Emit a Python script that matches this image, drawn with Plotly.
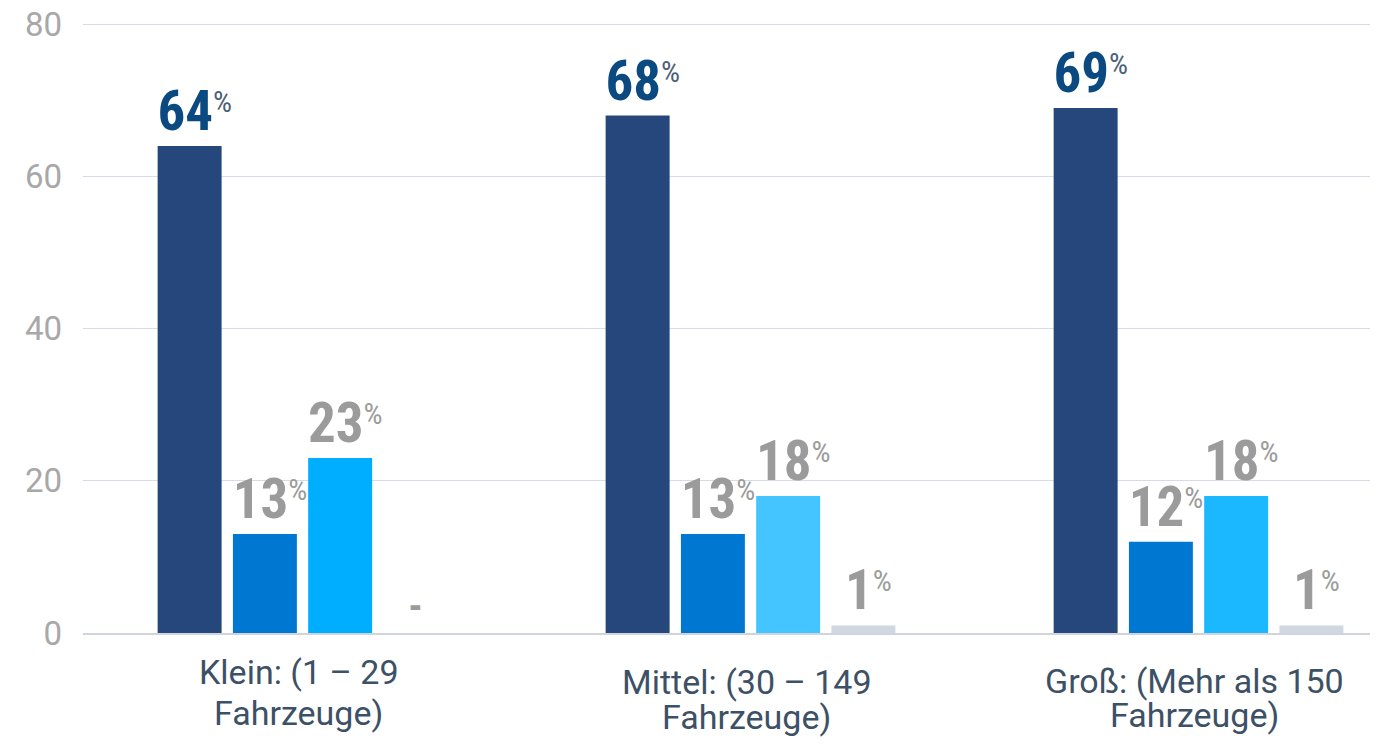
import plotly.graph_objects as go

categories = ["Klein: (1 – 29<br>Fahrzeuge)", "Mittel: (30 – 149<br>Fahrzeuge)", "Groß: (Mehr als 150<br>Fahrzeuge)"]
series1 = [64, 68, 69]
series2 = [13, 13, 12]
series3 = [23, 18, 18]
series4 = [0, 1, 1]
y_ticks = [0, 20, 40, 60, 80]

bar_colors = [
    ["#26477B"] * 3,
    ["#0077D1"] * 3,
    ["#00AEFF", "#45C5FF", "#1BB8FF"],
    ["#D0D7E0"] * 3,
]
label_colors = ["#0A4A80", "#9B9B9B", "#9B9B9B", "#9B9B9B"]
pct_colors = ["#4A6078", "#9B9B9B", "#9B9B9B", "#9B9B9B"]

LABEL_FONT = "Roboto Condensed, Roboto, sans-serif"

# vertical offsets (px below the axis) for each line of the category labels
line_shifts = [(-17, -58), (-27, -62), (-26, -60)]


def make_text(vals, pct_color):
    out = []
    for v in vals:
        if v == 0:
            out.append("<span style='font-size:40px'>-</span>")
        else:
            # small invisible leading spacer nudges the number towards the bar centre
            out.append(
                "<span style='color:rgba(0,0,0,0);font-size:16px;font-weight:normal'>%</span>"
                f"<span style='font-size:55px'>{v}</span>"
                f"<sup><span style='color:{pct_color};font-weight:normal'>%</span></sup>"
            )
    return out


fig = go.Figure()
for i, vals in enumerate([series1, series2, series3, series4]):
    fig.add_trace(go.Bar(
        x=list(range(len(categories))),
        y=vals,
        marker=dict(color=bar_colors[i], line=dict(width=0)),
        text=make_text(vals, pct_colors[i]),
        textposition="outside",
        constraintext="none",
        textfont=dict(family=LABEL_FONT, size=43, color=label_colors[i], weight="bold"),
        cliponaxis=False,
        hoverinfo="skip",
        showlegend=False,
    ))

for i, cat in enumerate(categories):
    for j, line in enumerate(cat.split("<br>")):
        fig.add_annotation(
            x=i, y=0, xref="x", yref="y",
            text=line, showarrow=False,
            xanchor="center", yanchor="top",
            xshift=-4, yshift=line_shifts[i][j],
            font=dict(family="Roboto, sans-serif", size=34, color="#3D5166"),
        )

# page has an 8px body margin, so offsets are compensated here
fig.update_layout(
    width=1378,
    height=744,
    barmode="group",
    bargap=0.328,
    bargroupgap=0.15,
    plot_bgcolor="white",
    paper_bgcolor="white",
    margin=dict(l=75, r=8, t=14, b=119, autoexpand=False),
    font=dict(family="Roboto, sans-serif"),
)
fig.update_xaxes(
    tickmode="array",
    tickvals=list(range(len(categories))),
    ticktext=[""] * len(categories),
    range=[-0.49, 2.4006],
    showgrid=False,
    showline=True,
    linecolor="#D0D4DC",
    linewidth=2,
    ticks="",
    automargin=False,
)
fig.update_yaxes(
    range=[0, 80.3],
    tickvals=y_ticks,
    tickfont=dict(family="Roboto, sans-serif", size=33, color="#A8A8A8"),
    showgrid=True,
    gridcolor="#D8DBE5",
    gridwidth=1,
    zeroline=False,
    showline=False,
    ticks="",
    ticklabelstandoff=20,
    ticklabeloverflow="allow",
    automargin=False,
)

fig.write_html("out.html")
